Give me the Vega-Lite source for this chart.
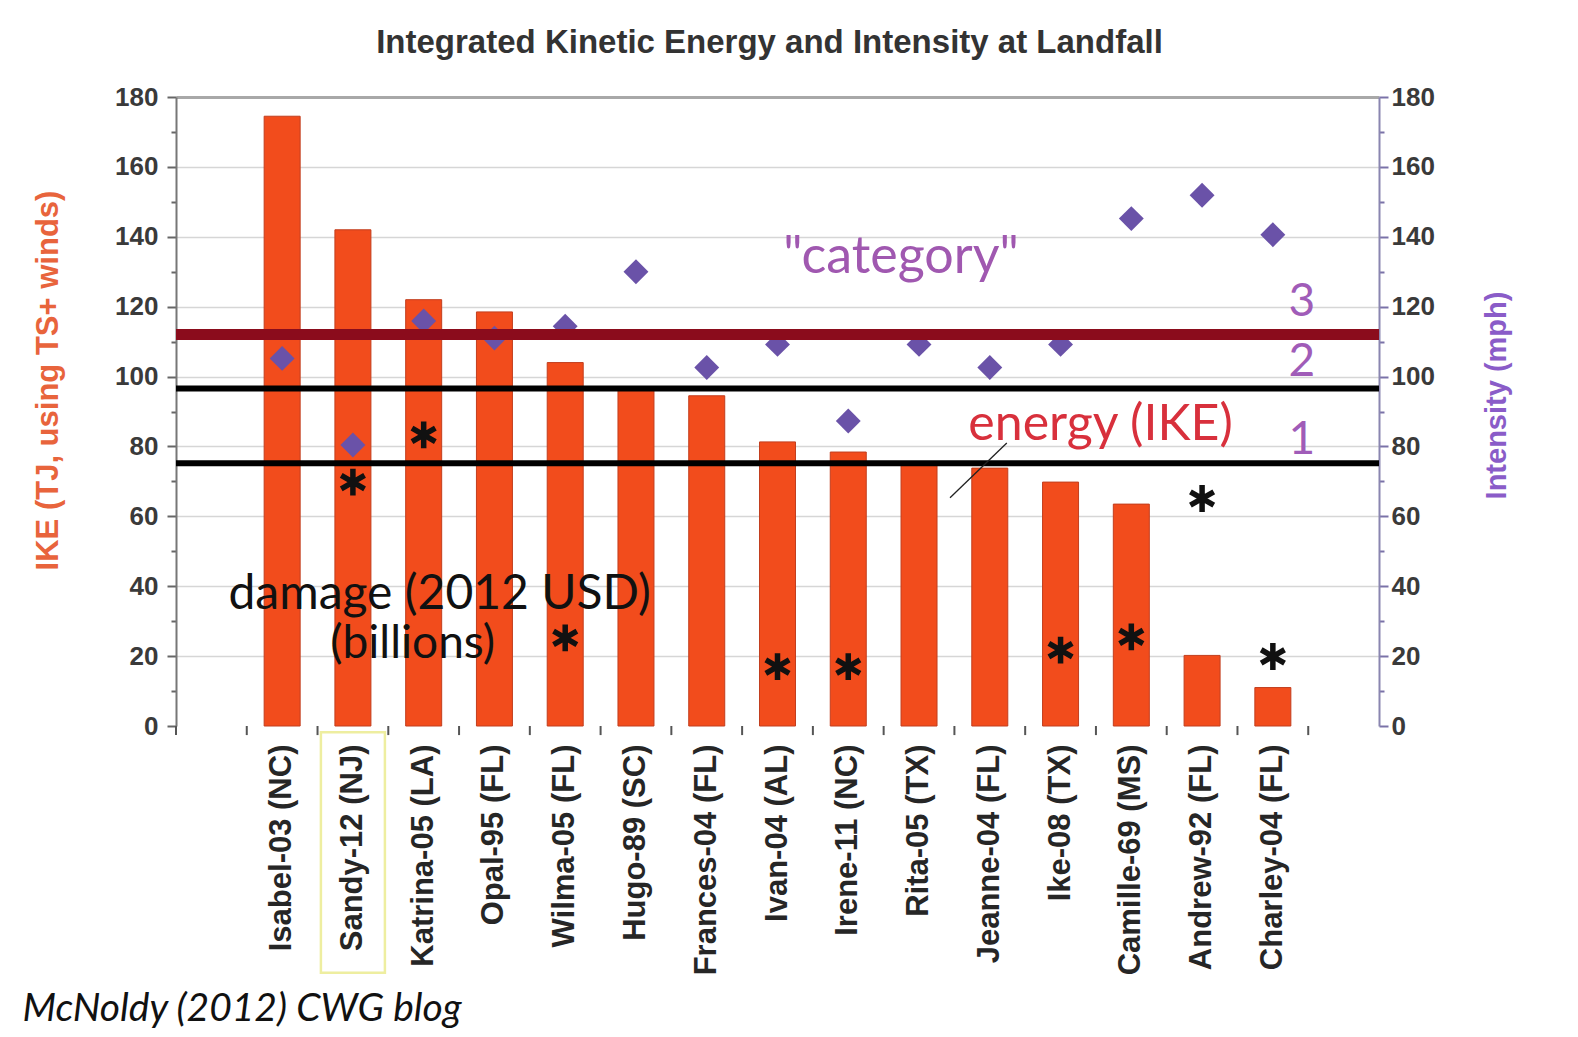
{
  "$schema": "https://vega.github.io/schema/vega-lite/v6.json",
  "width": 1203,
  "height": 629,
  "autosize": {"type": "none"},
  "padding": {"left": 176, "top": 97, "right": 199, "bottom": 311},
  "background": "#ffffff",
  "config": {"view": {"stroke": null}, "font": "Liberation Sans"},
  "title": {
    "text": "Integrated Kinetic Energy and Intensity at Landfall",
    "anchor": "middle",
    "frame": "group",
    "dx": -8,
    "offset": -2,
    "baseline": "alphabetic",
    "font": "Liberation Sans",
    "fontSize": 33,
    "fontWeight": "bold",
    "color": "#333333"
  },
  "data": {
    "values": [
      {"name": "Isabel-03 (NC)", "ike": 174.5, "intensity": 105.2, "damage": null, "ikeTrend": 122.2, "catTrend": 93, "dmgTrend": 57.1},
      {"name": "Sandy-12 (NJ)", "ike": 142, "intensity": 80.4, "damage": 69.8},
      {"name": "Katrina-05 (LA)", "ike": 122, "intensity": 115.9, "damage": 83.3},
      {"name": "Opal-95 (FL)", "ike": 118.5, "intensity": 111, "damage": null},
      {"name": "Wilma-05 (FL)", "ike": 104, "intensity": 114.4, "damage": 25.2},
      {"name": "Hugo-89 (SC)", "ike": 97, "intensity": 130, "damage": null},
      {"name": "Frances-04 (FL)", "ike": 94.5, "intensity": 102.6, "damage": null},
      {"name": "Ivan-04 (AL)", "ike": 81.3, "intensity": 109.2, "damage": 17},
      {"name": "Irene-11 (NC)", "ike": 78.4, "intensity": 87.3, "damage": 17},
      {"name": "Rita-05 (TX)", "ike": 75.3, "intensity": 109.2, "damage": null},
      {"name": "Jeanne-04 (FL)", "ike": 73.8, "intensity": 102.6, "damage": null},
      {"name": "Ike-08 (TX)", "ike": 69.8, "intensity": 109.2, "damage": 21.7},
      {"name": "Camille-69 (MS)", "ike": 63.5, "intensity": 145.2, "damage": 25.5},
      {"name": "Andrew-92 (FL)", "ike": 20.2, "intensity": 151.9, "damage": 65.1},
      {"name": "Charley-04 (FL)", "ike": 11, "intensity": 140.6, "damage": 19.9, "ikeTrend": 36.3, "catTrend": 135, "dmgTrend": 29.7}
    ]
  },
  "resolve": {"scale": {"y": "independent"}},
  "layer": [
    {
      "mark": {"type": "bar", "width": 36, "color": "#f24c1c", "stroke": "#c23e1e", "strokeWidth": 1},
      "encoding": {
        "x": {
          "field": "name", "type": "nominal", "sort": null,
          "scale": {"domain": ["pad0", "Isabel-03 (NC)", "Sandy-12 (NJ)", "Katrina-05 (LA)", "Opal-95 (FL)", "Wilma-05 (FL)", "Hugo-89 (SC)", "Frances-04 (FL)", "Ivan-04 (AL)", "Irene-11 (NC)", "Rita-05 (TX)", "Jeanne-04 (FL)", "Ike-08 (TX)", "Camille-69 (MS)", "Andrew-92 (FL)", "Charley-04 (FL)", "pad1"], "paddingInner": 0, "paddingOuter": 0},
          "axis": {
            "title": null,
            "ticks": false,
            "labels": false,
            "domainColor": "#555555",
            "domainWidth": 2,
            "grid": false
          }
        },
        "y": {
          "field": "ike", "type": "quantitative",
          "scale": {"domain": [0, 180], "nice": false},
          "axis": {
            "title": "IKE (TJ, using TS+ winds)",
            "values": [0, 10, 20, 30, 40, 50, 60, 70, 80, 90, 100, 110, 120, 130, 140, 150, 160, 170, 180],
            "labelExpr": "datum.value % 20 == 0 ? datum.label : ''",
            "grid": true,
            "gridColor": {"condition": {"test": "datum.value == 180", "value": "#a8a8a8"}, "value": "#d6d6d6"},
            "gridWidth": {"condition": {"test": "datum.value == 180", "value": 3}, "value": 1.5},
            "gridOpacity": {"condition": {"test": "datum.value % 20 == 0 && datum.value > 0", "value": 1}, "value": 0},
            "tickSize": {"condition": {"test": "datum.value % 20 == 0", "value": 9}, "value": 5},
            "tickColor": "#666666",
            "tickWidth": 2,
            "domainColor": "#777777",
            "domainWidth": 2,
            "labelFont": "Liberation Sans",
            "labelFontSize": 26,
            "labelFontWeight": "bold",
            "labelColor": "#3a3a3a",
            "labelPadding": 9,
            "labelOverlap": false,
            "titleFont": "Liberation Sans",
            "titleColor": "#e8643c",
            "titleFontSize": 31,
            "titleFontWeight": "bold",
            "titlePadding": 50,
            "titleY": 283
          }
        }
      }
    },
    {
      "mark": {"type": "text", "angle": 270, "align": "right", "baseline": "middle", "font": "Liberation Sans", "fontSize": 31, "fontWeight": "bold", "color": "#262626"},
      "encoding": {
        "x": {"field": "name", "type": "nominal", "sort": null, "scale": {"domain": ["pad0", "Isabel-03 (NC)", "Sandy-12 (NJ)", "Katrina-05 (LA)", "Opal-95 (FL)", "Wilma-05 (FL)", "Hugo-89 (SC)", "Frances-04 (FL)", "Ivan-04 (AL)", "Irene-11 (NC)", "Rita-05 (TX)", "Jeanne-04 (FL)", "Ike-08 (TX)", "Camille-69 (MS)", "Andrew-92 (FL)", "Charley-04 (FL)", "pad1"], "paddingInner": 0, "paddingOuter": 0}, "axis": null},
        "y": {"datum": -5.3, "type": "quantitative", "scale": {"domain": [0, 180], "nice": false}, "axis": null},
        "text": {"field": "name", "type": "nominal"}
      }
    },
    {
      "data": {"values": [{"t": "pad0"}, {"t": "Isabel-03 (NC)"}, {"t": "Sandy-12 (NJ)"}, {"t": "Katrina-05 (LA)"}, {"t": "Opal-95 (FL)"}, {"t": "Wilma-05 (FL)"}, {"t": "Hugo-89 (SC)"}, {"t": "Frances-04 (FL)"}, {"t": "Ivan-04 (AL)"}, {"t": "Irene-11 (NC)"}, {"t": "Rita-05 (TX)"}, {"t": "Jeanne-04 (FL)"}, {"t": "Ike-08 (TX)"}, {"t": "Camille-69 (MS)"}, {"t": "Andrew-92 (FL)"}, {"t": "Charley-04 (FL)"}, {"t": "pad1"}]},
      "mark": {"type": "rule", "color": "#555555", "strokeWidth": 2},
      "encoding": {
        "x": {"field": "t", "type": "nominal", "bandPosition": 0, "sort": null, "scale": {"domain": ["pad0", "Isabel-03 (NC)", "Sandy-12 (NJ)", "Katrina-05 (LA)", "Opal-95 (FL)", "Wilma-05 (FL)", "Hugo-89 (SC)", "Frances-04 (FL)", "Ivan-04 (AL)", "Irene-11 (NC)", "Rita-05 (TX)", "Jeanne-04 (FL)", "Ike-08 (TX)", "Camille-69 (MS)", "Andrew-92 (FL)", "Charley-04 (FL)", "pad1"], "paddingInner": 0, "paddingOuter": 0}, "axis": null},
        "y": {"datum": 0, "type": "quantitative", "scale": {"domain": [0, 180], "nice": false}, "axis": null},
        "y2": {"datum": -2.6}
      }
    },
    {
      "mark": {"type": "point", "shape": "diamond", "filled": true, "color": "#6a52a8", "size": 620, "opacity": 1},
      "encoding": {
        "x": {"field": "name", "type": "nominal", "sort": null, "scale": {"domain": ["pad0", "Isabel-03 (NC)", "Sandy-12 (NJ)", "Katrina-05 (LA)", "Opal-95 (FL)", "Wilma-05 (FL)", "Hugo-89 (SC)", "Frances-04 (FL)", "Ivan-04 (AL)", "Irene-11 (NC)", "Rita-05 (TX)", "Jeanne-04 (FL)", "Ike-08 (TX)", "Camille-69 (MS)", "Andrew-92 (FL)", "Charley-04 (FL)", "pad1"], "paddingInner": 0, "paddingOuter": 0}, "axis": null},
        "y": {
          "field": "intensity", "type": "quantitative",
          "scale": {"domain": [0, 180], "nice": false},
          "axis": {
            "orient": "right",
            "title": "Intensity (mph)",
            "values": [0, 10, 20, 30, 40, 50, 60, 70, 80, 90, 100, 110, 120, 130, 140, 150, 160, 170, 180],
            "labelExpr": "datum.value % 20 == 0 ? datum.label : ''",
            "grid": false,
            "tickSize": {"condition": {"test": "datum.value % 20 == 0", "value": 9}, "value": 5},
            "tickColor": "#7a72a8",
            "tickWidth": 2,
            "domainColor": "#8a86b0",
            "domainWidth": 2,
            "labelFont": "Liberation Sans",
            "labelFontSize": 26,
            "labelFontWeight": "bold",
            "labelColor": "#3a3a3a",
            "labelPadding": 3,
            "labelOverlap": false,
            "titleFont": "Liberation Sans",
            "titleColor": "#8a5cc8",
            "titleFontSize": 29,
            "titleFontWeight": "bold",
            "titleAngle": 270,
            "titleBaseline": "top",
            "titlePadding": 48,
            "titleY": 298
          }
        }
      }
    },
    {
      "data": {"values": [{}]},
      "mark": {"type": "rule", "color": "#8b0c1c", "strokeWidth": 11},
      "encoding": {"y": {"datum": 112, "type": "quantitative", "scale": {"domain": [0, 180], "nice": false}, "axis": null}}
    },
    {
      "data": {"values": [{}]},
      "mark": {"type": "rule", "color": "#000000", "strokeWidth": 6},
      "encoding": {"y": {"datum": 96.6, "type": "quantitative", "scale": {"domain": [0, 180], "nice": false}, "axis": null}}
    },
    {
      "data": {"values": [{}]},
      "mark": {"type": "rule", "color": "#000000", "strokeWidth": 6},
      "encoding": {"y": {"datum": 75.2, "type": "quantitative", "scale": {"domain": [0, 180], "nice": false}, "axis": null}}
    },
    {
      "mark": {"type": "line", "color": "#e8363c", "strokeWidth": 4},
      "encoding": {
        "x": {"field": "name", "type": "nominal", "sort": null, "scale": {"domain": ["pad0", "Isabel-03 (NC)", "Sandy-12 (NJ)", "Katrina-05 (LA)", "Opal-95 (FL)", "Wilma-05 (FL)", "Hugo-89 (SC)", "Frances-04 (FL)", "Ivan-04 (AL)", "Irene-11 (NC)", "Rita-05 (TX)", "Jeanne-04 (FL)", "Ike-08 (TX)", "Camille-69 (MS)", "Andrew-92 (FL)", "Charley-04 (FL)", "pad1"], "paddingInner": 0, "paddingOuter": 0}, "axis": null},
        "y": {"field": "ikeTrend", "type": "quantitative", "scale": {"domain": [0, 180], "nice": false}, "axis": null}
      }
    },
    {
      "mark": {"type": "line", "color": "#a462b8", "strokeWidth": 4},
      "encoding": {
        "x": {"field": "name", "type": "nominal", "sort": null, "scale": {"domain": ["pad0", "Isabel-03 (NC)", "Sandy-12 (NJ)", "Katrina-05 (LA)", "Opal-95 (FL)", "Wilma-05 (FL)", "Hugo-89 (SC)", "Frances-04 (FL)", "Ivan-04 (AL)", "Irene-11 (NC)", "Rita-05 (TX)", "Jeanne-04 (FL)", "Ike-08 (TX)", "Camille-69 (MS)", "Andrew-92 (FL)", "Charley-04 (FL)", "pad1"], "paddingInner": 0, "paddingOuter": 0}, "axis": null},
        "y": {"field": "catTrend", "type": "quantitative", "scale": {"domain": [0, 180], "nice": false}, "axis": null}
      }
    },
    {
      "mark": {"type": "line", "color": "#000000", "strokeWidth": 4},
      "encoding": {
        "x": {"field": "name", "type": "nominal", "sort": null, "scale": {"domain": ["pad0", "Isabel-03 (NC)", "Sandy-12 (NJ)", "Katrina-05 (LA)", "Opal-95 (FL)", "Wilma-05 (FL)", "Hugo-89 (SC)", "Frances-04 (FL)", "Ivan-04 (AL)", "Irene-11 (NC)", "Rita-05 (TX)", "Jeanne-04 (FL)", "Ike-08 (TX)", "Camille-69 (MS)", "Andrew-92 (FL)", "Charley-04 (FL)", "pad1"], "paddingInner": 0, "paddingOuter": 0}, "axis": null},
        "y": {"field": "dmgTrend", "type": "quantitative", "scale": {"domain": [0, 180], "nice": false}, "axis": null}
      }
    },
    {
      "mark": {"type": "point", "shape": "M0,-1L0,1M-0.87,-0.5L0.87,0.5M-0.87,0.5L0.87,-0.5", "filled": false, "stroke": "#111111", "strokeWidth": 5.5, "size": 720, "opacity": 1},
      "encoding": {
        "x": {"field": "name", "type": "nominal", "sort": null, "scale": {"domain": ["pad0", "Isabel-03 (NC)", "Sandy-12 (NJ)", "Katrina-05 (LA)", "Opal-95 (FL)", "Wilma-05 (FL)", "Hugo-89 (SC)", "Frances-04 (FL)", "Ivan-04 (AL)", "Irene-11 (NC)", "Rita-05 (TX)", "Jeanne-04 (FL)", "Ike-08 (TX)", "Camille-69 (MS)", "Andrew-92 (FL)", "Charley-04 (FL)", "pad1"], "paddingInner": 0, "paddingOuter": 0}, "axis": null},
        "y": {"field": "damage", "type": "quantitative", "scale": {"domain": [0, 180], "nice": false}, "axis": null}
      }
    },
    {
      "data": {"values": [{}]},
      "mark": {"type": "rule", "color": "#222222", "strokeWidth": 1.3, "xOffset": 31, "x2Offset": 17},
      "encoding": {
        "x": {"datum": "Rita-05 (TX)", "type": "nominal", "scale": {"domain": ["pad0", "Isabel-03 (NC)", "Sandy-12 (NJ)", "Katrina-05 (LA)", "Opal-95 (FL)", "Wilma-05 (FL)", "Hugo-89 (SC)", "Frances-04 (FL)", "Ivan-04 (AL)", "Irene-11 (NC)", "Rita-05 (TX)", "Jeanne-04 (FL)", "Ike-08 (TX)", "Camille-69 (MS)", "Andrew-92 (FL)", "Charley-04 (FL)", "pad1"], "paddingInner": 0, "paddingOuter": 0}, "axis": null},
        "x2": {"datum": "Jeanne-04 (FL)"},
        "y": {"datum": 65.3, "type": "quantitative", "scale": {"domain": [0, 180], "nice": false}, "axis": null},
        "y2": {"datum": 81}
      }
    },
    {
      "data": {"values": [{}]},
      "mark": {"type": "bar", "width": 64, "fill": "#ffffff", "fillOpacity": 0, "stroke": "#eeeea0", "strokeWidth": 2.5},
      "encoding": {
        "x": {"datum": "Sandy-12 (NJ)", "type": "nominal", "scale": {"domain": ["pad0", "Isabel-03 (NC)", "Sandy-12 (NJ)", "Katrina-05 (LA)", "Opal-95 (FL)", "Wilma-05 (FL)", "Hugo-89 (SC)", "Frances-04 (FL)", "Ivan-04 (AL)", "Irene-11 (NC)", "Rita-05 (TX)", "Jeanne-04 (FL)", "Ike-08 (TX)", "Camille-69 (MS)", "Andrew-92 (FL)", "Charley-04 (FL)", "pad1"], "paddingInner": 0, "paddingOuter": 0}, "axis": null},
        "y": {"datum": -1.8, "type": "quantitative", "scale": {"domain": [0, 180], "nice": false}, "axis": null},
        "y2": {"datum": -70.6}
      }
    },
    {
      "data": {"values": [{}]},
      "mark": {"type": "text", "text": "\"category\"", "font": "Lato", "fontSize": 52, "color": "#a058b0", "dx": -18, "align": "center", "baseline": "middle"},
      "encoding": {
        "x": {"datum": "Rita-05 (TX)", "type": "nominal", "scale": {"domain": ["pad0", "Isabel-03 (NC)", "Sandy-12 (NJ)", "Katrina-05 (LA)", "Opal-95 (FL)", "Wilma-05 (FL)", "Hugo-89 (SC)", "Frances-04 (FL)", "Ivan-04 (AL)", "Irene-11 (NC)", "Rita-05 (TX)", "Jeanne-04 (FL)", "Ike-08 (TX)", "Camille-69 (MS)", "Andrew-92 (FL)", "Charley-04 (FL)", "pad1"], "paddingInner": 0, "paddingOuter": 0}, "axis": null},
        "y": {"datum": 134.2, "type": "quantitative", "scale": {"domain": [0, 180], "nice": false}, "axis": null}
      }
    },
    {
      "data": {"values": [{}]},
      "mark": {"type": "text", "text": "energy (IKE)", "font": "Lato", "fontSize": 50, "color": "#d8303c", "dx": 40, "align": "center", "baseline": "middle"},
      "encoding": {
        "x": {"datum": "Ike-08 (TX)", "type": "nominal", "scale": {"domain": ["pad0", "Isabel-03 (NC)", "Sandy-12 (NJ)", "Katrina-05 (LA)", "Opal-95 (FL)", "Wilma-05 (FL)", "Hugo-89 (SC)", "Frances-04 (FL)", "Ivan-04 (AL)", "Irene-11 (NC)", "Rita-05 (TX)", "Jeanne-04 (FL)", "Ike-08 (TX)", "Camille-69 (MS)", "Andrew-92 (FL)", "Charley-04 (FL)", "pad1"], "paddingInner": 0, "paddingOuter": 0}, "axis": null},
        "y": {"datum": 86.1, "type": "quantitative", "scale": {"domain": [0, 180], "nice": false}, "axis": null}
      }
    },
    {
      "data": {"values": [{}]},
      "mark": {"type": "text", "text": "3", "font": "Lato", "fontSize": 46, "color": "#a05cb8", "dx": 29, "align": "center", "baseline": "middle"},
      "encoding": {
        "x": {"datum": "Charley-04 (FL)", "type": "nominal", "scale": {"domain": ["pad0", "Isabel-03 (NC)", "Sandy-12 (NJ)", "Katrina-05 (LA)", "Opal-95 (FL)", "Wilma-05 (FL)", "Hugo-89 (SC)", "Frances-04 (FL)", "Ivan-04 (AL)", "Irene-11 (NC)", "Rita-05 (TX)", "Jeanne-04 (FL)", "Ike-08 (TX)", "Camille-69 (MS)", "Andrew-92 (FL)", "Charley-04 (FL)", "pad1"], "paddingInner": 0, "paddingOuter": 0}, "axis": null},
        "y": {"datum": 121.3, "type": "quantitative", "scale": {"domain": [0, 180], "nice": false}, "axis": null}
      }
    },
    {
      "data": {"values": [{}]},
      "mark": {"type": "text", "text": "2", "font": "Lato", "fontSize": 46, "color": "#a05cb8", "dx": 29, "align": "center", "baseline": "middle"},
      "encoding": {
        "x": {"datum": "Charley-04 (FL)", "type": "nominal", "scale": {"domain": ["pad0", "Isabel-03 (NC)", "Sandy-12 (NJ)", "Katrina-05 (LA)", "Opal-95 (FL)", "Wilma-05 (FL)", "Hugo-89 (SC)", "Frances-04 (FL)", "Ivan-04 (AL)", "Irene-11 (NC)", "Rita-05 (TX)", "Jeanne-04 (FL)", "Ike-08 (TX)", "Camille-69 (MS)", "Andrew-92 (FL)", "Charley-04 (FL)", "pad1"], "paddingInner": 0, "paddingOuter": 0}, "axis": null},
        "y": {"datum": 104.2, "type": "quantitative", "scale": {"domain": [0, 180], "nice": false}, "axis": null}
      }
    },
    {
      "data": {"values": [{}]},
      "mark": {"type": "text", "text": "1", "font": "Lato", "fontSize": 46, "color": "#a05cb8", "dx": 29, "align": "center", "baseline": "middle"},
      "encoding": {
        "x": {"datum": "Charley-04 (FL)", "type": "nominal", "scale": {"domain": ["pad0", "Isabel-03 (NC)", "Sandy-12 (NJ)", "Katrina-05 (LA)", "Opal-95 (FL)", "Wilma-05 (FL)", "Hugo-89 (SC)", "Frances-04 (FL)", "Ivan-04 (AL)", "Irene-11 (NC)", "Rita-05 (TX)", "Jeanne-04 (FL)", "Ike-08 (TX)", "Camille-69 (MS)", "Andrew-92 (FL)", "Charley-04 (FL)", "pad1"], "paddingInner": 0, "paddingOuter": 0}, "axis": null},
        "y": {"datum": 81.9, "type": "quantitative", "scale": {"domain": [0, 180], "nice": false}, "axis": null}
      }
    },
    {
      "data": {"values": [{}]},
      "mark": {"type": "text", "text": "damage (2012 USD)", "font": "Lato", "fontSize": 48, "color": "#111111", "dx": 16, "align": "center", "baseline": "middle"},
      "encoding": {
        "x": {"datum": "Katrina-05 (LA)", "type": "nominal", "scale": {"domain": ["pad0", "Isabel-03 (NC)", "Sandy-12 (NJ)", "Katrina-05 (LA)", "Opal-95 (FL)", "Wilma-05 (FL)", "Hugo-89 (SC)", "Frances-04 (FL)", "Ivan-04 (AL)", "Irene-11 (NC)", "Rita-05 (TX)", "Jeanne-04 (FL)", "Ike-08 (TX)", "Camille-69 (MS)", "Andrew-92 (FL)", "Charley-04 (FL)", "pad1"], "paddingInner": 0, "paddingOuter": 0}, "axis": null},
        "y": {"datum": 37.6, "type": "quantitative", "scale": {"domain": [0, 180], "nice": false}, "axis": null}
      }
    },
    {
      "data": {"values": [{}]},
      "mark": {"type": "text", "text": "(billions)", "font": "Lato", "fontSize": 46, "color": "#111111", "dx": -11, "align": "center", "baseline": "middle"},
      "encoding": {
        "x": {"datum": "Katrina-05 (LA)", "type": "nominal", "scale": {"domain": ["pad0", "Isabel-03 (NC)", "Sandy-12 (NJ)", "Katrina-05 (LA)", "Opal-95 (FL)", "Wilma-05 (FL)", "Hugo-89 (SC)", "Frances-04 (FL)", "Ivan-04 (AL)", "Irene-11 (NC)", "Rita-05 (TX)", "Jeanne-04 (FL)", "Ike-08 (TX)", "Camille-69 (MS)", "Andrew-92 (FL)", "Charley-04 (FL)", "pad1"], "paddingInner": 0, "paddingOuter": 0}, "axis": null},
        "y": {"datum": 23.6, "type": "quantitative", "scale": {"domain": [0, 180], "nice": false}, "axis": null}
      }
    },
    {
      "data": {"values": [{}]},
      "mark": {"type": "text", "text": "McNoldy (2012) CWG blog", "font": "Lato", "fontSize": 39, "fontStyle": "italic", "color": "#111111", "dx": -189, "align": "left", "baseline": "middle"},
      "encoding": {
        "x": {"datum": "pad0", "type": "nominal", "scale": {"domain": ["pad0", "Isabel-03 (NC)", "Sandy-12 (NJ)", "Katrina-05 (LA)", "Opal-95 (FL)", "Wilma-05 (FL)", "Hugo-89 (SC)", "Frances-04 (FL)", "Ivan-04 (AL)", "Irene-11 (NC)", "Rita-05 (TX)", "Jeanne-04 (FL)", "Ike-08 (TX)", "Camille-69 (MS)", "Andrew-92 (FL)", "Charley-04 (FL)", "pad1"], "paddingInner": 0, "paddingOuter": 0}, "axis": null},
        "y": {"datum": -81, "type": "quantitative", "scale": {"domain": [0, 180], "nice": false}, "axis": null}
      }
    }
  ]
}
